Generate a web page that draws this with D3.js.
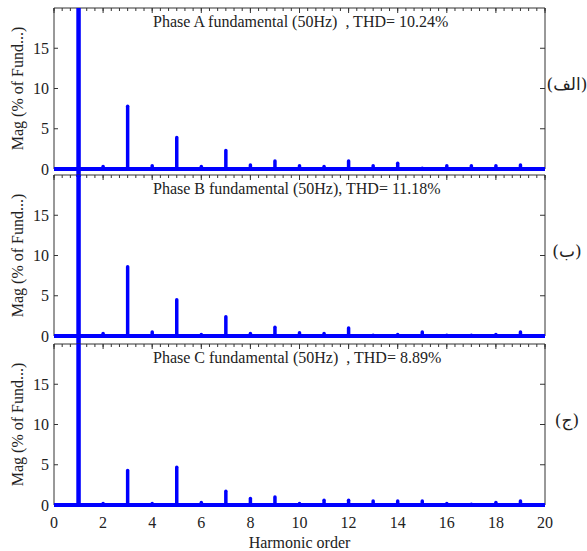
<!DOCTYPE html>
<html>
<head>
<meta charset="utf-8">
<script src="https://cdn.jsdelivr.net/npm/d3@7"></script>
<style>
  html, body { margin: 0; padding: 0; background: #fff; }
  svg { display: block; }
  text { font-family: "Liberation Serif", "Times New Roman", serif; fill: #222; }
</style>
</head>
<body>
<svg id="chart" width="587" height="551"></svg>
<script>
// Harmonic orders 1..19 and magnitudes (% of fundamental) for each phase
const harmonics = d3.range(1, 20);
const phaseA = [100, 0.3, 7.8, 0.4, 3.9, 0.3, 2.3, 0.5, 1.0, 0.4, 0.3, 1.0, 0.4, 0.7, 0.1, 0.4, 0.4, 0.4, 0.5];
const phaseB = [100, 0.3, 8.6, 0.5, 4.5, 0.2, 2.4, 0.3, 1.1, 0.4, 0.3, 1.0, 0.1, 0.2, 0.5, 0.1, 0.1, 0.2, 0.5];
const phaseC = [100, 0.2, 4.3, 0.2, 4.7, 0.3, 1.7, 0.8, 1.0, 0.2, 0.6, 0.6, 0.5, 0.5, 0.5, 0.2, 0.1, 0.3, 0.5];

const titles = [
  "Phase A fundamental (50Hz)\u00a0\u00a0, THD= 10.24%",
  "Phase B fundamental (50Hz), THD= 11.18%",
  "Phase C fundamental (50Hz)\u00a0\u00a0, THD= 8.89%"
];
const panelTags = ["(الف)", "(ب)", "(ج)"];
const xTicks = d3.range(0, 21, 2);
const yTicks = [0, 5, 10, 15];
const yLabel = "Mag (% of Fund...)";
const xLabel = "Harmonic order";

const series = [phaseA, phaseB, phaseC];

const svg = d3.select("#chart");
const left = 54, right = 545;
const panelTops = [8, 175, 344];
const panelH = 161;
const blue = "#0000ff";

const x = d3.scaleLinear().domain([0, 20]).range([left, right]);

series.forEach((vals, i) => {
  const top = panelTops[i];
  const y = d3.scaleLinear().domain([0, 20]).range([top + panelH, top]);
  const g = svg.append("g");
  const last = i === series.length - 1;

  // frame: top, left, right
  g.append("line").attr("x1", left).attr("x2", right).attr("y1", top).attr("y2", top)
    .attr("stroke", "#333").attr("stroke-width", 1);
  g.append("line").attr("x1", left).attr("x2", left).attr("y1", top).attr("y2", y(0))
    .attr("stroke", "#333").attr("stroke-width", 1);
  g.append("line").attr("x1", right).attr("x2", right).attr("y1", top).attr("y2", y(0))
    .attr("stroke", "#333").attr("stroke-width", 1);

  // top ticks (major every 2, minor every 1/3)
  const minor = d3.range(0, 20.001, 1 / 3);
  g.selectAll(".mt").data(minor).join("line")
    .attr("x1", d => x(d)).attr("x2", d => x(d))
    .attr("y1", top).attr("y2", top + 3)
    .attr("stroke", "#333").attr("stroke-width", 1);
  g.selectAll(".Mt").data(xTicks).join("line")
    .attr("x1", d => x(d)).attr("x2", d => x(d))
    .attr("y1", top).attr("y2", top + 5)
    .attr("stroke", "#333").attr("stroke-width", 1);

  // y ticks on both sides
  g.selectAll(".yl").data(yTicks.slice(1)).join("line")
    .attr("x1", left).attr("x2", left + 4)
    .attr("y1", d => y(d)).attr("y2", d => y(d))
    .attr("stroke", "#333");
  g.selectAll(".yr").data(yTicks.slice(1)).join("line")
    .attr("x1", right).attr("x2", right - 5)
    .attr("y1", d => y(d)).attr("y2", d => y(d))
    .attr("stroke", "#333");

  // y tick labels
  g.selectAll(".ytl").data(yTicks).join("text")
    .attr("x", left - 5).attr("y", d => y(d)).attr("dy", "0.35em")
    .attr("text-anchor", "end").attr("font-size", 16)
    .text(d => d);

  // y axis label
  g.append("text")
    .attr("transform", `translate(23,${top + panelH / 2}) rotate(-90)`)
    .attr("text-anchor", "middle").attr("font-size", 16)
    .text(yLabel);

  // title
  g.append("text")
    .attr("x", 153).attr("y", top + 19)
    .attr("font-size", 16)
    .text(titles[i]);

  // panel tag
  g.append("text")
    .attr("x", 567).attr("y", top + 82)
    .attr("text-anchor", "middle").attr("font-size", 17)
    .style("font-family", "'DejaVu Serif', 'DejaVu Sans', serif")
    .text(panelTags[i]);

  // baseline of the spectrum
  g.append("line")
    .attr("x1", x(0)).attr("x2", x(20))
    .attr("y1", y(0)).attr("y2", y(0))
    .attr("stroke", blue).attr("stroke-width", 4);

  // harmonic spikes
  g.selectAll(".sp").data(harmonics.map((h, k) => ({ h, v: vals[k] }))).join("line")
    .attr("x1", d => x(d.h)).attr("x2", d => x(d.h))
    .attr("y1", d => d.h === 1 && !last ? y(-1) : y(0))
    .attr("y2", d => y(Math.min(d.v, 20)))
    .attr("stroke", blue)
    .attr("stroke-linecap", d => d.h === 1 ? "butt" : "round")
    .attr("stroke-width", d => d.h === 1 ? 4.5 : 3.5);

  if (last) {
    g.selectAll(".xtl").data(xTicks).join("text")
      .attr("x", d => x(d)).attr("y", y(0) + 23)
      .attr("text-anchor", "middle").attr("font-size", 16)
      .text(d => d);
    g.append("text")
      .attr("x", (left + right) / 2).attr("y", y(0) + 43)
      .attr("text-anchor", "middle").attr("font-size", 16)
      .text(xLabel);
  }
});
</script>
</body>
</html>
